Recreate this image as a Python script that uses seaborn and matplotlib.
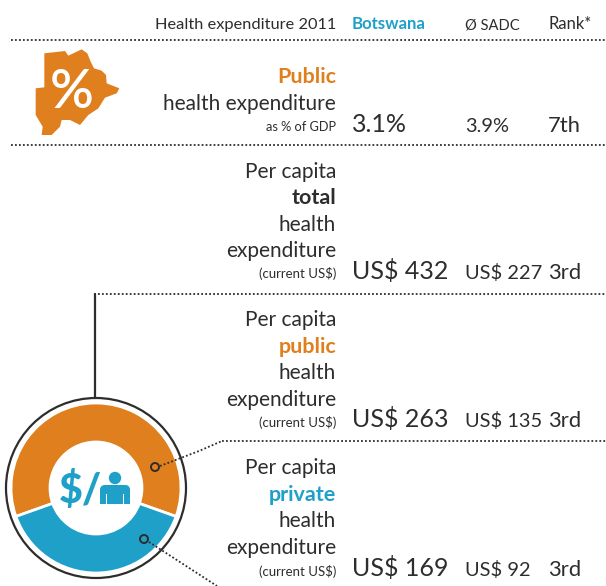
import numpy as np
import pandas as pd
import seaborn as sns
import matplotlib.pyplot as plt
from matplotlib.patches import Circle, Polygon, FancyBboxPatch, Rectangle

ORANGE = '#e07f1e'
BLUE = '#1fa0c8'
DARK = '#2e2d2c'
FONT = 'Lato'

columns = ['Health expenditure 2011', 'Botswana', 'Ø SADC', 'Rank*']
botswana_values = ['3.1%', 'US$ 432', 'US$ 263', 'US$ 169']
sadc_values = ['3.9%', 'US$ 227', 'US$ 135', 'US$ 92']
ranks = ['7th', '3rd', '3rd', '3rd']
row_top = ['', 'Per capita', 'Per capita', 'Per capita']
row_key = ['Public', 'total', 'public', 'private']
row_rest = [['health expenditure'], ['health', 'expenditure'], ['health', 'expenditure'], ['health', 'expenditure']]
row_unit = ['as % of GDP', '(current US$)', '(current US$)', '(current US$)']
share_labels = ['public', 'private']
share_values = [263, 169]

# outline of the country icon, in picture pixels
BOTSWANA_SHAPE = np.array([
    (133, 160), (195, 153), (205, 167), (245, 148), (262, 160), (272, 185), (282, 205), (305, 212),
    (318, 225), (320, 250), (358, 265), (350, 280), (315, 293), (295, 325), (265, 345), (240, 375),
    (210, 360), (185, 360), (180, 380), (155, 405), (125, 405), (128, 380), (107, 345), (107, 265),
    (133, 262)]) / 3

sns.set_theme(style='white')
plt.rcParams['font.family'] = [FONT, 'DejaVu Sans']

fig = plt.figure(figsize=(6.06, 5.86), dpi=100)
ax = fig.add_axes([0, 0, 1, 1])
ax.set_xlim(0, 606)
ax.set_ylim(586, 0)
ax.axis('off')


def px(size):
    return size * 72 / 100


def dotted(x0, y0, x1, y1):
    ax.plot([x0, x1], [y0, y1], color=DARK, lw=1.3, linestyle=(0, (1, 1.2)), zorder=2, clip_on=True)


# header
header_x = [336, 352, 465, 548]
header_size = [16.4, 16.8, 14.8, 16.6]
for i, (x, label) in enumerate(zip(header_x, columns)):
    ax.text(x, 29, label, ha='right' if i == 0 else 'left', va='baseline', fontsize=px(header_size[i]),
            color=BLUE if i == 1 else DARK, fontweight='bold' if i == 1 else 'normal')

# separators
dotted(11, 40, 606, 40)
dotted(11, 145, 606, 145)
dotted(94, 294, 606, 294)
dotted(222, 441, 606, 441)
ax.plot([95, 95], [294, 398], color=DARK, lw=1.6, zorder=2)

# rows
row_baselines = [
    [83, 110, 131],
    [178, 204, 231, 257, 278],
    [326, 353, 379, 406, 427],
    [474, 501, 527, 554, 576],
]
value_baselines = [132, 279, 427, 576]
sadc_baselines = [132, 279, 427, 576]
for i in range(4):
    lines = ([row_top[i]] if row_top[i] else []) + [row_key[i]] + row_rest[i] + [row_unit[i]]
    for line, y in zip(lines, row_baselines[i]):
        size = 20.9
        color = DARK
        weight = 'normal'
        if line == row_key[i]:
            size = 21.5
            weight = 'bold'
            color = {'Public': ORANGE, 'public': ORANGE, 'private': BLUE}.get(line, DARK)
        if line == row_unit[i]:
            size = 13.2 if i else 12.7
        ax.text(336, y, line, ha='right', va='baseline', fontsize=px(size), color=color, fontweight=weight)
    ax.text(352, value_baselines[i], botswana_values[i], ha='left', va='baseline', fontsize=px(25), color=DARK)
    ax.text(465, sadc_baselines[i], sadc_values[i], ha='left', va='baseline', fontsize=px(20), color=DARK)
    ax.text(548, sadc_baselines[i], ranks[i], ha='left', va='baseline', fontsize=px(22), color=DARK)

# country icon
ax.add_patch(Polygon(BOTSWANA_SHAPE, closed=True, facecolor=ORANGE, edgecolor='none', zorder=2))
ax.text(72, 108, '%', ha='center', va='baseline', fontsize=px(54), color='white', fontweight='semibold', zorder=3)

# donut, pixel units around the centre
cx, cy, r_out = 96, 488, 85
pie_ax = fig.add_axes([(cx - 95) / 606, 1 - (cy + 95) / 586, 190 / 606, 190 / 586])
colors = sns.color_palette([ORANGE, BLUE])
split_df = pd.DataFrame({'label': share_labels, 'value': share_values})
pie_ax.pie(split_df['value'], colors=colors, radius=r_out, startangle=-19.6, counterclock=True,
           wedgeprops={'width': r_out - 46, 'edgecolor': 'white', 'linewidth': 2})
pie_ax.set_xlim(-95, 95)
pie_ax.set_ylim(-95, 95)
pie_ax.set_aspect('equal')
pie_ax.axis('off')
pie_ax.patch.set_alpha(0)
pie_ax.set_zorder(1)

top = fig.add_axes([0, 0, 1, 1])
top.set_xlim(0, 606)
top.set_ylim(586, 0)
top.axis('off')
top.patch.set_alpha(0)
top.set_zorder(3)
top.add_patch(Circle((cx, cy), 90, fill=False, edgecolor=DARK, lw=1.6))

# icon in the hole
top.text(80, 503, '$/', ha='center', va='baseline', fontsize=px(41), color=BLUE, fontweight='black')
top.add_patch(Circle((115, 478), 6.2, color=BLUE, lw=0))
top.add_patch(FancyBboxPatch((100, 485), 30, 18, boxstyle='round,pad=0,rounding_size=5', facecolor=BLUE, edgecolor='none'))
top.add_patch(Rectangle((100, 500), 30, 4, color=BLUE, lw=0))
top.add_patch(Rectangle((105.5, 494), 1.2, 10, color='white', lw=0))
top.add_patch(Rectangle((123, 494), 1.2, 10, color='white', lw=0))

# leader lines
for xs, ys, hole in [((160, 199, 222), (466, 451, 441), (155, 467)), ((149, 217), (542, 586), (144, 539))]:
    top.plot(xs, ys, color=DARK, lw=1.3, linestyle=(0, (1, 1.2)))
    top.add_patch(Circle(hole, 4, fill=False, edgecolor=DARK, lw=1.4))

fig.savefig('out.png', dpi=100)
